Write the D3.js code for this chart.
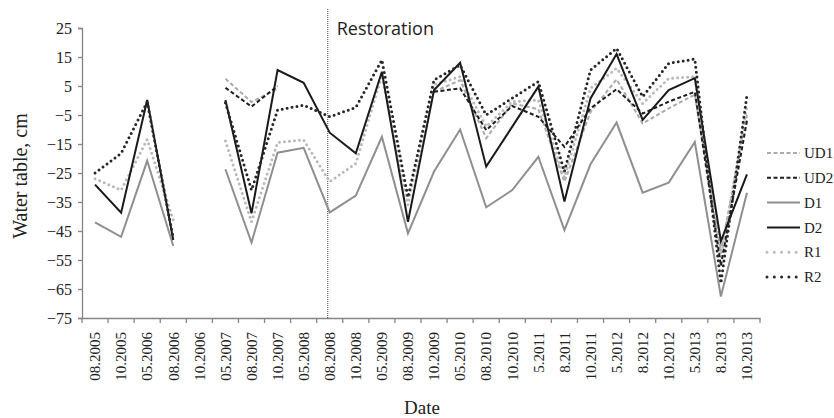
<!DOCTYPE html>
<html><head><meta charset="utf-8">
<script src="https://cdn.jsdelivr.net/npm/d3@7"></script>
<style>body{margin:0;background:#fff}svg{display:block}</style>
</head><body>
<svg id="c" width="834" height="418"></svg>
<script>
const categories = ["08.2005","10.2005","05.2006","08.2006","10.2006","05.2007","08.2007","10.2007","05.2008","08.2008","10.2008","05.2009","08.2009","10.2009","05.2010","08.2010","10.2010","5.2011","8.2011","10.2011","5.2012","8.2012","10.2012","5.2013","8.2013","10.2013"];
const yTicks = [25,15,5,-5,-15,-25,-35,-45,-55,-65,-75];
const UD1 = [null,null,null,null,null,7.5,-0.5,4,null,null,null,null,null,3,7,-13,-1,-3,-28,-4,7.3,-7.9,-2.7,2,-52,-5];
const UD2 = [null,null,null,null,null,4.4,-2.1,5,null,null,null,null,null,3,4.2,-10.2,-1.9,-5.6,-16,-2.7,3.9,-4.5,-0.4,3,-57,-7];
const D1  = [-42,-47,-20.8,-50.2,null,-23.7,-49,-18,-16.3,-38.6,-32.8,-12.5,-45.8,-24.5,-10,-36.8,-30.9,-19.4,-44.7,-22,-7.6,-31.8,-28.3,-14.3,-67.6,-31.8];
const D2  = [-29,-38.7,0.2,-48.1,null,0.2,-38.9,10.5,6.1,-11.1,-18.2,9.9,-41.8,3.6,13,-22.8,-9,4.8,-34.8,0.7,16,-6.7,3.6,7.7,-48.5,-25.5];
const R1  = [-27,-30.9,-13.4,-41.2,null,-14,-41.8,-14.5,-13.6,-28,-21.7,8.8,-36,5.5,8.2,-9,-0.4,0.2,-26.5,4.2,11.1,-1,7.6,8.2,-54,-2];
const R2  = [-25,-18.2,-0.5,-47.5,null,-0.8,-30.9,-3.3,-1.6,-5.6,-2.4,14,-33.4,7.1,12.2,-5,0.8,6.5,-24.5,10.5,18,1.3,12.8,14.3,-63,1.9];
const seriesNames = ["UD1","UD2","D1","D2","R1","R2"];
const seriesData = [UD1,UD2,D1,D2,R1,R2];
const styles = {
  UD1:{stroke:"#ababab",w:2,dash:"4,2.5",cap:"butt"},
  UD2:{stroke:"#1e1e1e",w:2,dash:"4,2.5",cap:"butt"},
  D1:{stroke:"#8f8f8f",w:2,dash:null,cap:"butt"},
  D2:{stroke:"#1a1a1a",w:2,dash:null,cap:"butt"},
  R1:{stroke:"#b9b9b9",w:3,dash:"0,5",cap:"round"},
  R2:{stroke:"#262626",w:3,dash:"0,5",cap:"round"}
};
const svg = d3.select("#c");
const x = d3.scaleBand().domain(categories).range([82,760]).padding(0);
const y = d3.scaleLinear().domain([-75,25]).range([318,28]);
const axisColor = "#858585";
const serif = "'Liberation Serif','Times New Roman',serif";

// y axis
const ya = svg.append("g").attr("transform","translate(82,0)")
  .call(d3.axisLeft(y).tickValues(yTicks).tickSize(4).tickPadding(6).tickFormat(d=>d<0?"\u2212"+Math.abs(d):d));
ya.select(".domain").attr("stroke",axisColor).attr("stroke-width",1.3);
ya.selectAll(".tick line").attr("stroke",axisColor).attr("stroke-width",1.3);
ya.selectAll(".tick text").attr("font-family",serif).attr("font-size",16).attr("fill","#222");

// x axis
const xa = svg.append("g").attr("transform","translate(0,318)")
  .call(d3.axisBottom(x).tickSize(0).tickPadding(0));
xa.select(".domain").attr("stroke",axisColor).attr("stroke-width",1.3);
xa.selectAll(".tick text").attr("font-family",serif).attr("font-size",15).attr("fill","#222")
  .attr("text-anchor","end").attr("dy","0.35em")
  .attr("transform","translate(0,14) rotate(-90)").attr("x",0).attr("y",0);
// boundary ticks
const bounds = categories.map(c=>x(c)).concat([760]);
svg.append("g").selectAll("line").data(bounds).join("line")
  .attr("x1",d=>d).attr("x2",d=>d).attr("y1",318).attr("y2",323)
  .attr("stroke",axisColor).attr("stroke-width",1.3);

// restoration line
const rx = x("08.2008") + x.bandwidth()/2 - 2;
svg.append("line").attr("x1",rx).attr("x2",rx).attr("y1",9).attr("y2",318)
  .attr("stroke","#444").attr("stroke-width",1).attr("stroke-dasharray","1,1");
svg.append("text").attr("x",rx+9).attr("y",35).text("Restoration")
  .attr("font-family","'Open Sans','Noto Sans',sans-serif").attr("font-size",18).attr("fill","#222");

// lines
const line = d3.line().defined(d=>d.v!=null).x(d=>x(d.c)+x.bandwidth()/2).y(d=>y(d.v));
const order = ["D1","UD1","R1","UD2","D2","R2"];
order.forEach(n=>{
  const arr = seriesData[seriesNames.indexOf(n)];
  const st = styles[n];
  const pts = categories.map((c,i)=>({c, v:arr[i]}));
  svg.append("path").datum(pts).attr("d",line).attr("fill","none")
    .attr("stroke",st.stroke).attr("stroke-width",st.w)
    .attr("stroke-dasharray",st.dash).attr("stroke-linecap",st.cap).attr("stroke-linejoin","miter");
});

// legend
const lg = svg.append("g");
seriesNames.forEach((n,i)=>{
  const st = styles[n];
  const yy = 153 + i*24.8;
  lg.append("line").attr("x1",767).attr("x2",800).attr("y1",yy).attr("y2",yy)
    .attr("stroke",st.stroke).attr("stroke-width",st.w)
    .attr("stroke-dasharray",n.startsWith("R")?"0,7.3":st.dash).attr("stroke-linecap",st.cap);
  lg.append("text").attr("x",804).attr("y",yy).attr("dy","0.35em").text(n)
    .attr("font-family",serif).attr("font-size",15).attr("fill","#222");
});

// axis titles
svg.append("text").attr("transform","translate(27,176) rotate(-90)").attr("text-anchor","middle")
  .text("Water table, cm").attr("font-family",serif).attr("font-size",20).attr("fill","#222");
svg.append("text").attr("x",422).attr("y",414).attr("text-anchor","middle")
  .text("Date").attr("font-family",serif).attr("font-size",19).attr("fill","#222");
</script>
</body></html>
